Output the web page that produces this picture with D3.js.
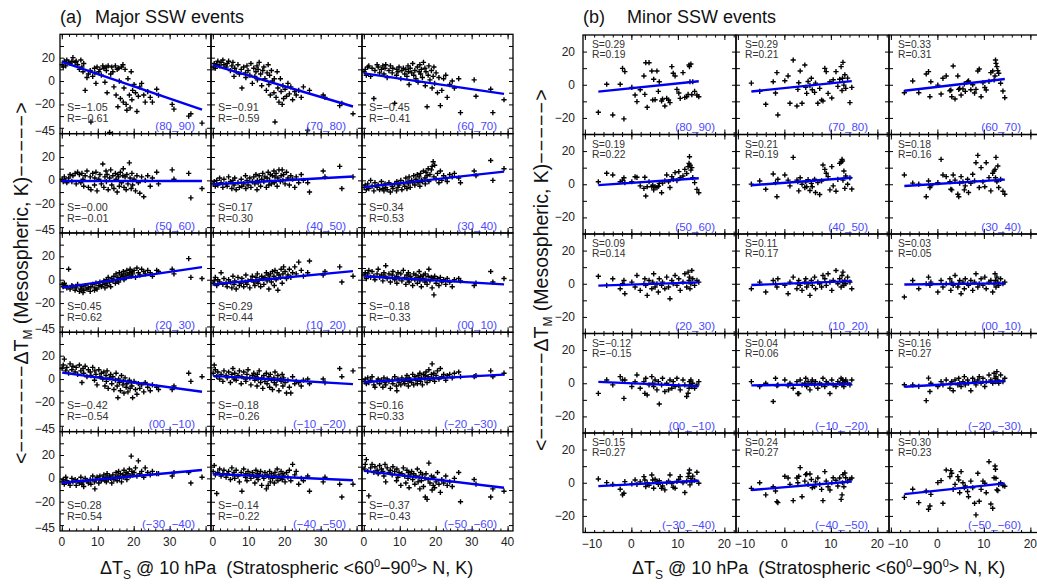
<!DOCTYPE html>
<html>
<head>
<meta charset="utf-8">
<script src="https://cdn.jsdelivr.net/npm/d3@7"></script>
<style>
  body { margin: 0; background: #fff; }
  svg { font-family: Arial, "Liberation Sans", sans-serif; }
</style>
</head>
<body>
<svg id="chart" width="1037" height="585"></svg>
<script>
// ---- data ----

// stratospheric warming (x) is the same for every latitude band
var xMajor = [0.1,0.4,0.7,1.1,1.4,1.9,2.3,2.8,3.1,3.7, 4.0,4.4,4.9,5.3,5.6,5.9,6.1,6.5,7.0,7.4,
  7.9,8.1,8.6,9.1,9.2,9.5,9.8,10.3,10.6,11.0, 11.4,11.7,12.0,12.3,12.4,12.6,12.9,13.3,13.6,13.9,
  14.2,14.5,14.9,15.1,15.4,15.6,15.8,16.0,16.3,16.6, 17.0,17.1,17.3,17.6,17.9,18.1,18.4,18.8,19.0,19.3,
  19.5,19.7,20.1,20.5,20.9,21.3,21.7,22.2,22.8,23.2, 23.9,24.6,25.2,26.4,26.9,30.7,31.2,35.3,35.9,39.0];

var maj8090 = [14,12,17,13,18,16,15,17,20,16, 17,14,10,18,12,8,15,-8,3,6, 9,-35,4,11,7,-2,12,8,10,5, 13,11,-1,12,9,-10,13,-44,6,12,
  8,-5,13,-12,10,-22,11,0,-15,12, 14,-18,-6,10,-20,-25,2,-12,-23,8, -16,-8,-3,-10,-26,-13,-5,-2,-12,-18, -9,-14,-18,-7,-12,-20,-24,-30,-28,-36];
var maj7080 = [12,15,11,14,17,13,16,18,14,12, 15,17,9,13,16,4,11,8,14,6, 10,-6,12,7,3,13,9,5,15,-2, 11,4,8,13,1,10,16,6,-4,9,
  12,2,-8,7,14,-3,5,-12,9,0, -10,2,-35,-14,8,-6,-18,2,-9,-20, -4,-15,-7,-13,-2,-11,-5,-16,-9,-12, -8,-14,-5,-42,-8,-12,-14,-21,-19,-28];
var maj6070 = [8,10,5,12,13,4,11,-15,9,14, 12,7,10,13,6,11,14,3,9,13, 7,11,-19,5,10,8,12,2,9,11, 6,10,4,13,8,-3,11,7,15,5,
  9,2,12,-1,8,14,6,10,3,16, 11,-4,8,-22,5,13,1,9,-6,4, 12,-2,7,-10,3,-21,-8,2,5,-14, -3,0,-6,2,-27,1,-13,-7,-27,-16];
var maj5060 = [1,-1,3,0,-2,2,5,-1,4,6, -3,7,5,-2,6,1,-5,4,8,-6, 3,-8,6,-4,2,7,-9,1,5,-3, 14,-6,3,8,-1,5,-8,2,9,-4,
  4,-7,6,1,-10,5,3,-5,7,-2, 4,10,-6,3,-8,5,-3,15,2,-7, 6,-4,1,-9,4,-2,-11,3,-14,0, 4,-5,2,7,-3,9,1,6,-15,-7];
var maj4050 = [-3,-1,-5,0,-4,2,-2,-6,1,-3, -5,3,-1,-7,0,-4,2,-8,-2,-6, 1,-5,-3,4,-7,0,-4,2,-6,-1, 3,-3,5,-8,0,-2,4,-5,1,6,
  -1,3,-6,2,7,-4,0,5,-3,4, 8,-2,3,6,-5,2,9,-1,4,9, 0,5,-3,7,2,-4,4,1,-6,3, -2,5,0,-2,-10,8,3,12,-7,3];
var maj3040 = [-6,-4,-8,-3,-7,0,-5,-9,-2,-6, -4,-8,-1,-7,-9,-3,-6,-8,-2,-10, -5,-7,-3,-9,-1,-6,-4,0,-8,-2, -5,2,-7,-1,-3,3,-6,0,-2,4,
  -4,1,5,-2,3,-5,6,0,-1,8, 2,-3,7,4,10,-1,5,9,12,16, 3,13,1,6,-2,8,0,4,2,-1, 5,3,6,2,-2,8,4,17,0,10];
var maj2030 = [-4,-6,-3,-5,-7,9,-8,-5,-6,-9, -7,-4,-10,-8,-6,-11,-9,-5,-8,-7, -10,-6,-4,-9,-7,-3,-8,-5,-2,-6, -4,-1,-7,-3,0,-5,2,-2,-6,1,
  -1,3,-3,5,0,2,-2,6,1,4, 3,7,0,5,2,8,4,6,9,3, 7,5,8,2,10,6,4,9,7,5, 8,6,3,8,7,9,5,18,2,1];
var maj1020 = [-3,-1,2,-5,0,-2,6,-4,1,-3, -6,0,-2,-7,3,-4,-1,-8,2,-5, -3,1,-6,-2,4,-4,-1,-7,0,3, -2,-5,2,-1,5,-3,0,-6,3,1,
  -4,2,6,-1,4,-8,1,5,-2,7, 3,-5,8,0,6,-9,4,2,9,-3, 5,11,7,1,4,9,2,6,11,5, 15,8,3,6,16,4,7,11,-2,3];
var maj0010 = [4,6,1,5,8,2,7,3,0,5, 9,2,4,-1,6,3,12,1,5,-2, 4,7,0,3,-3,6,1,5,-1,8, 2,-4,4,0,6,-2,3,1,-5,5,
  0,4,-3,2,7,-1,3,-6,1,4, -2,5,0,-4,3,9,-1,2,-7,1, -13,3,-3,1,-5,2,-2,0,-4,1, -2,-6,0,1,-1,-5,-3,7,-2,1];
var maj00m10 = [9,12,17,7,10,5,13,8,11,6, 10,4,12,7,-3,9,5,11,2,8, 6,3,10,-1,7,4,-5,8,2,5, 0,6,-6,3,-2,7,-8,1,4,-4,
  2,-9,-1,5,-6,-16,0,-3,-10,3, -5,-2,-12,1,-7,-4,-11,-1,-8,-3, -6,-16,-2,-9,-13,-4,-8,-5,-11,-3, -7,-10,-5,-7,-9,-9,-6,5,-2,2];
var majm1020 = [5,12,8,2,6,0,4,-2,7,3, 1,6,-3,4,9,0,5,-1,3,7, -4,2,6,0,-2,4,8,1,-5,3, 5,-1,2,-6,4,0,7,-3,1,-8,
  3,-2,5,-4,0,2,-7,4,-1,-9, 1,-3,6,-5,-1,3,-10,0,-2,4, -6,1,-3,-12,-1,-7,-12,2,-4,-2, -3,-6,-1,0,-4,0,-3,9,2,7];
var majm2030 = [-2,0,-4,1,-3,-1,2,-5,-7,-2, 0,-4,-1,-7,1,-3,-5,0,-2,-8, -1,-4,2,-6,-10,0,-3,-5,1,-2, -4,0,3,-2,-6,1,-1,-3,4,-5,
  2,-1,-4,3,0,5,-2,1,-5,4, 0,3,6,-3,2,8,-1,4,13,1, 5,-2,3,7,0,9,2,4,-1,3, 4,1,5,6,2,2,3,7,2,5];
var majm3040 = [-3,-1,-5,1,-2,-4,-6,0,-3,-1, -6,-2,-4,1,-5,-3,-7,0,-2,-4, -1,-5,2,-3,-9,-1,1,-4,2,-2, 0,3,-2,1,-3,4,-1,2,0,-4,
  3,-1,1,5,-2,2,6,0,4,-3, 3,1,7,2,5,-1,4,8,2,19, 6,3,5,9,2,15,4,6,1,9, 5,3,6,4,4,2,5,5,-4,1];
var majm4050 = [6,11,3,-13,5,8,2,4,7,1, 4,6,-1,9,3,5,0,7,2,-3, 5,-11,8,1,4,-2,6,3,0,5, 2,-4,7,1,4,-1,3,6,-6,2,
  0,5,-9,3,-6,1,6,-3,4,0, 2,-4,5,1,8,-2,3,0,6,-1, 4,2,-3,5,1,7,-2,12,3,6, -5,0,-2,2,-11,-3,1,-5,-16,-5];
var majm5060 = [8,12,16,6,-15,9,12,5,10,7, 4,11,8,6,2,12,-3,9,5,7, 3,10,6,-2,8,1,5,-6,4,9, 2,-4,7,0,5,-8,3,6,-1,4,
  -5,2,8,-3,1,-9,5,-2,3,-7, 0,-16,4,-18,-1,13,-4,2,-10,-6, 1,-8,-3,5,-5,-12,-1,-4,2,-6, -3,-7,0,5,-20,-1,-5,-16,-9,-11];

var xMinor = [-7.1,-5.3,-4.0,-2.4,-1.9,-1.6,-1.4,0.1,0.8,1.2, 1.9,2.7,2.9,3.1,3.4,3.8,4.4,4.6,4.8,5.1,
  5.5,5.8,6.0,6.5,6.7,7.2,7.6,8.0,8.3,8.7, 9.0,9.4,9.8,10.2,10.5,11.1,11.5,11.9,12.2,12.4, 12.5,12.6,12.8,13.0,13.2,13.6,14.1,14.5];

var min8090 = [-16.6,0.3,-18.2,0.3,9.9,-20.6,7.9,-1.6,-6.2,-10.2, -3,5.3,-5.8,13.3,-13.6,13.3,8.3,-9.2,3.3,-9,
  8.3,-4,1.8,-9.8,-8.6,-12.8,-8.2,-9.2,-10.8,10.9, 6.9,5.3,-2.8,-5,-8.2,7.3,-7.6,-7.2,-5.8,11.9, 10.9,1.8,12.5,-6,1.8,-4,-6.2,-7.2];
var min7080 = [1,-4,-11.8,1.8,-5,7.3,-18.2,2.4,5.3,-11.2, 14.9,-12.8,-2.8,1.2,8.3,-11.2,11.9,-1.6,-5.2,2,
  -0.5,3.9,-3,-4.6,1,-11.2,-2.2,-9.2,-9.8,9.9, 7.9,-5.2,1.8,-8,3,7.9,-1,3.3,10.9,-3.5, 3.9,13.5,-0.2,6,-2.2,4,-10.8,-1.6];
var min6070 = [-4.8,2.3,-4.8,6.5,7.9,-7.2,1.8,-0.2,-5.6,3.9, 5.3,-3.6,-3.2,-7.2,11.3,-8.6,5.3,-2.8,-2.2,-6.2,
  -2.5,0.5,-4,1.8,2.3,-3,0,-5,-2.8,8.3, 9.5,-7.2,1.2,-1.7,-3.2,2,7.3,8.3,2.9,5.3, 14.9,12.9,10.9,8.5,6.9,0.9,-3.8,-7.8];
var min5060 = [1.5,6.6,5.6,1.5,2.5,3.9,1,1.5,4.5,4.2, -1,-2.5,4.2,-7.1,-1.5,1.5,-1.5,-0.6,-3.4,-1.5,
  -2,-1.2,0.5,-5.1,0.7,2,5.6,1.5,-2,4.6, 3,7,2.2,7.6,3.9,5,9,6.5,10.6,12.6, 16.6,11.6,8.5,10,4,1,-3.1,-5.1];
var min4050 = [0.1,2,-3,6.2,1,-7.5,3,5.6,2.5,-1, 16.2,2.5,1.5,-4,3.9,0,-2,1.5,-1.5,2.8,
  -3.8,0.5,-1.5,3,-5,1,-6.2,2,11.6,9, 6.6,4.6,-3.4,10.6,-1,-4.2,3,12.6,13.4,15, 14,2.5,8,-2.5,5,0,3.9,-2.9];
var min3040 = [5.6,0.7,0.1,-7.5,2,-2,-0.9,1,15,5.6, 4.6,1.5,-3,-3.4,5.6,2.5,-6,-7.5,0.7,4.6,
  1.5,-3.4,-1,3,-5,0.5,6,2,13,17.4, -2,10,1.5,-1.5,13,4,-4,6.6,8,9, 3.9,16.2,1.5,11,-2,3,-4.2,-6];
var min2030 = [4.5,-1,3,-3,0,2,-6,1,-2,5, -4,0,3,-1,-7,2,-3,1,6,-2, 0,-5,3,-1,1,-3,4,-2,-9,2,
  0,5,-1,3,-4,1,6,-2,7,2, 4,-3,0,8,3,-1,2,1];
var min1020 = [-3,1,-5,2,0,-2,3,-1,-6,1, 4,-3,0,2,-1,-4,1,3,-2,0, -7,2,-1,4,-3,1,0,-2,5,3,
  -1,6,1,-4,2,8,0,3,-2,5, 1,7,-1,2,0,4,1,-3];
var min0010 = [-8,2,-3,0,4,-1,1,-5,2,-2, 0,3,-4,1,-1,5,-2,0,2,-6, 1,-3,3,0,-1,2,-4,1,6,-2,
  0,3,-1,4,-3,1,2,-5,0,6, 2,-2,4,1,-1,3,0,1];
var min00m10 = [-6.1,2,-1,4,2,-9.1,2,-2,0.9,5, -3,1,-6.1,3,-7.1,-1,4,0,-2,2, -4,1,-12.5,-1,3,-5,0,-4,2,-3,
  1,-2,3,-1.5,-4,2,-1,-8,-6,-3, 1,-1,2,-2,0,-3,-1,1];
var minm1020 = [1,-2,0,-11,3,-1.5,-1,2,-1.5,0, -3,1,-6.2,-6.2,2,-1,0,3,-2,1, -4,0,2,-1,1,-3,0,-1,3,-2,
  1,0,-6.2,2,-1,-2,1,0,3,-1, 2,0,-2,1,2,0,-1,2];
var minm2030 = [-0.9,-1,-1.9,-10.5,3.1,-5,0,-2,1,-1, 2,-3,0,1,-4.5,2,-1,3,0,-2, 1,4,-1,2,0,-4.5,3,1,-1,2,
  4,0,3,-2,1,5,2,0,6,3, 1,4,7,2,0,5,1,3];
var minm3040 = [2.3,0.1,-1,-3.9,-7.3,-6.3,0.7,-0.7,1.7,-1, 0.5,3.7,1.7,-2.3,0,-1.5,4.7,1.7,-3.3,2.1,
  0.5,-1,1.2,-3.3,-2,-4.3,0,1,4.7,-0.5, -2.7,-3.3,0.8,2,3.7,0,-5.9,1,3.7,5.7, 7.7,-1.3,2.5,0.5,4,1.5,6.3,-0.3];
var minm4050 = [-3.4,0,-7.3,-2.4,-5,-11.4,-12,3.9,2.9,-1, -10.8,2.9,0,3.9,9.1,-8.4,1,4.9,5.3,-1,
  5.3,2,-3,-2.4,0.5,2.9,-1,-4,-10.8,6.7, 1,-2.4,-4.4,0,3,1.5,-2,2.9,-10,-7.3, 0,4.9,-2.4,5.9,3,1,2,2.9];
var minm5060 = [-8.8,-3.9,-12,-5,-16,-14,-7,0.1,1.3,-12.4, 7.7,3.7,7.3,5.7,-4,-1,3.7,1.7,-6,6.7,
  0,-3,-2,-5.3,-8.4,1,-3,-12.4,-19.4,5.7, -11.2,-4,1,-0.3,-6,12.7,-12.8,-15.4,3,10.1, 8.1,2.7,-4.3,-4.7,-1,0,-1.7,-2.1];

var bands = ["(80_90)","(70_80)","(60_70)","(50_60)","(40_50)","(30_40)","(20_30)","(10_20)","(00_10)",
  "(00_\u221210)","(\u221210_\u221220)","(\u221220_\u221230)","(\u221230_\u221240)","(\u221240_\u221250)","(\u221250_\u221260)"];

var majorS = ["-1.05","-0.91","-0.45","-0.00","0.17","0.34","0.45","0.29","-0.18","-0.42","-0.18","0.16","0.28","-0.14","-0.37"];
var majorR = ["-0.61","-0.59","-0.41","-0.01","0.30","0.53","0.62","0.44","-0.33","-0.54","-0.26","0.33","0.54","-0.22","-0.43"];
var majorIntercept = [16.5,13.7,6.6,-0.5,-3.3,-5.8,-6.8,-4.0,3.0,5.5,2.7,-2.5,-3.8,3.8,6.4];

var minorS = ["0.29","0.29","0.33","0.19","0.21","0.18","0.09","0.11","0.03","-0.12","0.04","0.16","0.15","0.24","0.30"];
var minorR = ["0.19","0.21","0.31","0.22","0.19","0.16","0.14","0.17","0.05","-0.15","0.06","0.27","0.27","0.27","0.23"];
var minorIntercept = [-2.1,-2.0,-1.3,0.85,0.9,0.2,-0.5,0.0,-0.2,0.0,-1.0,-1.0,-1.0,-2.7,-4.7];

var majorY = [maj8090,maj7080,maj6070,maj5060,maj4050,maj3040,maj2030,maj1020,maj0010,maj00m10,majm1020,majm2030,majm3040,majm4050,majm5060];
var minorY = [min8090,min7080,min6070,min5060,min4050,min3040,min2030,min1020,min0010,min00m10,minm1020,minm2030,minm3040,minm4050,minm5060];

// ---- drawing ----
var svg = d3.select("#chart");
var fmt = d3.format("d");

function minus(s) { return s.replace(/-/g, "\u2212"); }

function drawBlock(cfg) {
    for (var k = 0; k < 15; k++) {
        var r = Math.floor(k / 3), c = k % 3;
        var x0 = cfg.left + c * cfg.colW, y0 = cfg.top + r * cfg.rowH;
        var x = d3.scaleLinear().domain(cfg.xDom).range([x0, x0 + cfg.colW]);
        var y = d3.scaleLinear().domain(cfg.yDom).range([y0 + cfg.rowH, y0]);
        var g = svg.append("g");

        // inward ticks on all four sides
        var axes = [
            [d3.axisBottom(x).tickValues(cfg.xMajor).tickSize(-5), "translate(0," + (y0 + cfg.rowH) + ")"],
            [d3.axisBottom(x).tickValues(cfg.xMinor).tickSize(-2.5), "translate(0," + (y0 + cfg.rowH) + ")"],
            [d3.axisTop(x).tickValues(cfg.xMajor).tickSize(-5), "translate(0," + y0 + ")"],
            [d3.axisTop(x).tickValues(cfg.xMinor).tickSize(-2.5), "translate(0," + y0 + ")"],
            [d3.axisLeft(y).tickValues(cfg.yTicks).tickSize(-4), "translate(" + x0 + ",0)"],
            [d3.axisRight(y).tickValues(cfg.yTicks).tickSize(-4), "translate(" + (x0 + cfg.colW) + ",0)"]
        ];
        axes.forEach(function(a) {
            var ag = g.append("g").attr("transform", a[1]).call(a[0].tickFormat(""));
            ag.select(".domain").remove();
            ag.selectAll("line").attr("stroke", "#000").attr("stroke-width", 1);
        });

        g.append("rect")
            .attr("x", x0).attr("y", y0)
            .attr("width", cfg.colW).attr("height", cfg.rowH)
            .attr("fill", "none").attr("stroke", "#000").attr("stroke-width", 1.3);

        // scatter of "+" marks
        var xs = cfg.xs, ys = cfg.ys[k];
        var pts = xs.map(function(v, i) { return [v, ys[i]]; }).filter(function(p) { return p[1] !== undefined; });
        g.selectAll("path.pt").data(pts).enter().append("path")
            .attr("class", "pt")
            .attr("d", function(p) {
                var px = x(p[0]), py = y(p[1]);
                return "M" + (px - 2.6) + "," + py + "H" + (px + 2.6) + "M" + px + "," + (py - 2.6) + "V" + (py + 2.6);
            })
            .attr("stroke", "#000").attr("stroke-width", 1.4).attr("fill", "none");

        // regression line
        var ext = d3.extent(xs), s = +cfg.S[k], b = cfg.B[k];
        g.append("line")
            .attr("x1", x(ext[0])).attr("y1", y(b + s * ext[0]))
            .attr("x2", x(ext[1])).attr("y2", y(b + s * ext[1]))
            .attr("stroke", "#0000f0").attr("stroke-width", 2.4);

        // S / R text and band label
        g.append("text").attr("x", x0 + cfg.sDx).attr("y", y0 + cfg.sDy)
            .attr("font-size", cfg.sFont).attr("fill", "#333").text("S=" + minus(cfg.S[k]));
        g.append("text").attr("x", x0 + cfg.sDx).attr("y", y0 + cfg.sDy + cfg.lineGap)
            .attr("font-size", cfg.sFont).attr("fill", "#333").text("R=" + minus(cfg.R[k]));
        g.append("text").attr("x", x0 + cfg.colW - cfg.bandDx).attr("y", y0 + 96)
            .attr("text-anchor", "end").attr("font-size", 11.5).attr("fill", "#4a4aff").text(bands[k]);

        // tick labels on outer edges
        if (c === 0) {
            cfg.yLabels.forEach(function(v) {
                var yy = y(v) + 4;
                if (v === cfg.yDom[0]) yy -= 3;
                svg.append("text").attr("x", x0 - cfg.yLabDx).attr("y", yy)
                    .attr("text-anchor", "end").attr("font-size", 12).attr("fill", "#222")
                    .text(fmt(v));
            });
        }
        if (r === 4) {
            cfg.xLabels[c].forEach(function(v) {
                var neg = v < 0;
                svg.append("text").attr("x", neg ? x(v) - 3 : x(v)).attr("y", cfg.xLabY)
                    .attr("text-anchor", neg ? "start" : "middle").attr("font-size", 12).attr("fill", "#222")
                    .text(fmt(v));
            });
        }
    }
}

drawBlock({
    left: 60, top: 34.3, colW: 151, rowH: 99.33,
    xDom: [-0.5, 41.5], yDom: [-45, 40],
    xMajor: [0, 10, 20, 30, 40], xMinor: d3.range(0, 42, 2),
    yTicks: [-40, -30, -20, -10, 0, 10, 20, 30],
    yLabels: [20, 0, -20, -45],
    xLabels: [[0, 10, 20, 30], [0, 10, 20, 30], [0, 10, 20, 30, 40]],
    xLabY: 546, yLabDx: 5,
    xs: xMajor, ys: majorY, S: majorS, R: majorR, B: majorIntercept,
    sDx: 7, sDy: 77, lineGap: 11, sFont: 10.8, bandDx: 16
});

drawBlock({
    left: 583, top: 35, colW: 153, rowH: 99.5,
    xDom: [-10.4, 22.5], yDom: [-30, 30],
    xMajor: [-10, 0, 10, 20], xMinor: d3.range(-10, 23, 2),
    yTicks: [-20, -10, 0, 10, 20],
    yLabels: [20, 0, -20],
    xLabels: [[-10, 0, 10, 20], [-10, 0, 10, 20], [-10, 0, 10, 20]],
    xLabY: 548, yLabDx: 8,
    xs: xMinor, ys: minorY, S: minorS, R: minorR, B: minorIntercept,
    sDx: 9, sDy: 13, lineGap: 10, sFont: 10.3, bandDx: 21
});

// titles
svg.append("text").attr("x", 60).attr("y", 23).attr("font-size", 18).attr("fill", "#111").text("(a)");
svg.append("text").attr("x", 95).attr("y", 23).attr("font-size", 18).attr("fill", "#111").text("Major SSW events");
svg.append("text").attr("x", 583).attr("y", 23).attr("font-size", 18).attr("fill", "#111").text("(b)");
svg.append("text").attr("x", 627).attr("y", 23).attr("font-size", 18).attr("fill", "#111").text("Minor SSW events");

// y axis titles (rotated)
function yTitle(xBase, yStart) {
    var t = svg.append("text")
        .attr("transform", "translate(" + xBase + "," + yStart + ") rotate(-90)")
        .attr("font-size", 19.5).attr("fill", "#111");
    t.append("tspan").text("<");
    t.append("tspan").attr("letter-spacing", 1.2).text("\u2212\u2212\u2212\u2212\u2212\u2212\u2212");
    t.append("tspan").text("\u0394T");
    t.append("tspan").attr("font-size", 12).attr("dy", 4).text("M");
    t.append("tspan").attr("dy", -4).text(" (Mesospheric, K)");
    t.append("tspan").attr("letter-spacing", 1.2).text("\u2212\u2212\u2212\u2212\u2212");
    t.append("tspan").text(">");
}
yTitle(28, 464);
yTitle(548, 451);

// x axis titles
function xTitle(xStart) {
    var t = svg.append("text").attr("x", xStart).attr("y", 574)
        .attr("font-size", 18).attr("fill", "#111").style("white-space", "pre");
    t.append("tspan").text("\u0394T");
    t.append("tspan").attr("font-size", 12).attr("dy", 5).text("S");
    t.append("tspan").attr("dy", -5).text(" @ 10 hPa  (Stratospheric <60");
    t.append("tspan").attr("font-size", 11).attr("dy", -7).text("0");
    t.append("tspan").attr("dy", 7).text("\u221290");
    t.append("tspan").attr("font-size", 11).attr("dy", -7).text("0");
    t.append("tspan").attr("dy", 7).text("> N, K)");
}
xTitle(100);
xTitle(632);
</script>
</body>
</html>
